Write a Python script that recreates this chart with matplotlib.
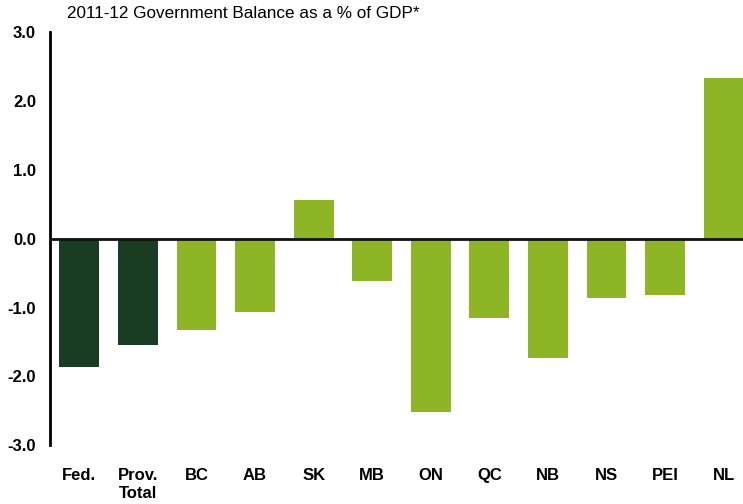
import matplotlib.pyplot as plt

plt.rcParams['font.family'] = ['Liberation Sans', 'DejaVu Sans']

categories = ["Fed.", "Prov.\nTotal", "BC", "AB", "SK", "MB", "ON", "QC", "NB", "NS", "PEI", "NL"]
balance = [-1.86, -1.55, -1.33, -1.06, 0.56, -0.61, -2.51, -1.15, -1.73, -0.86, -0.82, 2.33]
colors = ["#183d23", "#183d23"] + ["#8db526"] * 10

fig = plt.figure(figsize=(7.43, 5.04), dpi=100)
ax = fig.add_axes([0.0673, 0.1163, 0.9327, 0.8202])

x = list(range(len(categories)))
ax.bar(x, balance, width=0.68, color=colors, zorder=2)
ax.axhline(0, color="#111111", linewidth=2, zorder=3)

ax.set_xlim(-0.5, 11.33)
ax.set_ylim(-3.0, 3.0)
ax.set_yticks([-3, -2, -1, 0, 1, 2, 3])
ax.set_yticklabels(["-3.0", "-2.0", "-1.0", "0.0", "1.0", "2.0", "3.0"],
                   fontsize=12, fontweight="bold")
ax.set_xticks(x)
ax.set_xticklabels(categories, fontsize=12, fontweight="bold", linespacing=1.3, va="top")
ax.tick_params(axis="y", length=0, pad=10)
ax.tick_params(axis="x", length=0, pad=16)

for side in ["top", "right", "bottom"]:
    ax.spines[side].set_visible(False)
ax.spines["left"].set_linewidth(2)

fig.text(67 / 743, 1 - 14 / 504, "2011-12 Government Balance as a % of GDP*",
         fontsize=12.3, va="center", ha="left")

fig.savefig("out.png", dpi=100)
